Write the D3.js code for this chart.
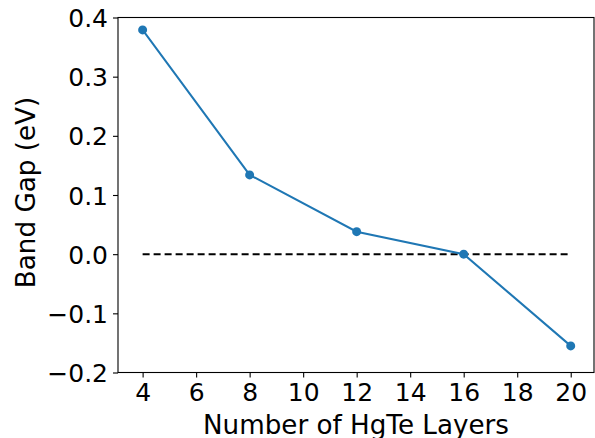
<!DOCTYPE html>
<html>
<head>
<meta charset="utf-8">
<script src="https://cdn.jsdelivr.net/npm/d3@7"></script>
<style>
  body { margin: 0; background: white; }
  svg text { font-family: "DejaVu Sans", sans-serif; fill: black; }
</style>
</head>
<body>
<div id="chart"></div>
<script>
var layers = [4, 8, 12, 16, 20],
    bandGap = [0.379, 0.134, 0.038, 0.0, -0.155],
    xTicks = [4, 6, 8, 10, 12, 14, 16, 18, 20],
    yTicks = [-0.2, -0.1, 0.0, 0.1, 0.2, 0.3, 0.4],
    refX = [4, 20],
    refY = [0, 0];

var width = 595, height = 438,
    plotLeft = 118, plotRight = 594, plotTop = 17.5, plotBottom = 372.5,
    tickSize = 25, labelSize = 26.2;

var x = d3.scaleLinear().domain([3.08, 20.87]).range([plotLeft, plotRight]);
var y = d3.scaleLinear().domain([-0.2, 0.4]).range([plotBottom, plotTop]);

var svg = d3.select("#chart").append("svg")
    .attr("width", width)
    .attr("height", height);

var fmt = function(d) { return d3.format(".1f")(d).replace("-", "\u2212"); };

var xAxis = svg.append("g")
    .attr("transform", "translate(0," + plotBottom + ")")
    .call(d3.axisBottom(x).tickValues(xTicks).tickSize(5).tickPadding(6).tickFormat(d3.format("d")));
var yAxis = svg.append("g")
    .attr("transform", "translate(" + plotLeft + ",0)")
    .call(d3.axisLeft(y).tickValues(yTicks).tickSize(5).tickPadding(5).tickFormat(fmt));

[xAxis, yAxis].forEach(function(g) {
  g.select(".domain").remove();
  g.selectAll(".tick line").attr("stroke", "black").attr("stroke-width", 1.1);
  g.selectAll(".tick text")
      .style("font-size", tickSize + "px")
      .style("font-family", "DejaVu Sans");
});
yAxis.selectAll(".tick text").attr("dy", "0.36em");

// frame
svg.append("rect")
    .attr("x", plotLeft)
    .attr("y", plotTop)
    .attr("width", plotRight - plotLeft)
    .attr("height", plotBottom - plotTop)
    .attr("fill", "none")
    .attr("stroke", "black")
    .attr("stroke-width", 1.1);

var line = d3.line()
    .x(function(d) { return x(d[0]); })
    .y(function(d) { return y(d[1]); });

svg.append("path")
    .datum(d3.zip(refX, refY))
    .attr("d", line)
    .attr("fill", "none")
    .attr("stroke", "black")
    .attr("stroke-width", 2)
    .attr("stroke-dasharray", "7,4");

svg.append("path")
    .datum(d3.zip(layers, bandGap))
    .attr("d", line)
    .attr("fill", "none")
    .attr("stroke", "#1f77b4")
    .attr("stroke-width", 2);

svg.selectAll("circle.pt")
    .data(d3.zip(layers, bandGap))
  .enter().append("circle")
    .attr("class", "pt")
    .attr("cx", function(d) { return x(d[0]); })
    .attr("cy", function(d) { return y(d[1]); })
    .attr("r", 4.5)
    .attr("fill", "#1f77b4");

svg.append("text")
    .attr("x", (plotLeft + plotRight) / 2)
    .attr("y", 434)
    .attr("text-anchor", "middle")
    .style("font-size", labelSize + "px")
    .text("Number of HgTe Layers");

svg.append("text")
    .attr("transform", "translate(35,192.5) rotate(-90)")
    .attr("text-anchor", "middle")
    .style("font-size", labelSize + "px")
    .text("Band Gap (eV)");
</script>
</body>
</html>
